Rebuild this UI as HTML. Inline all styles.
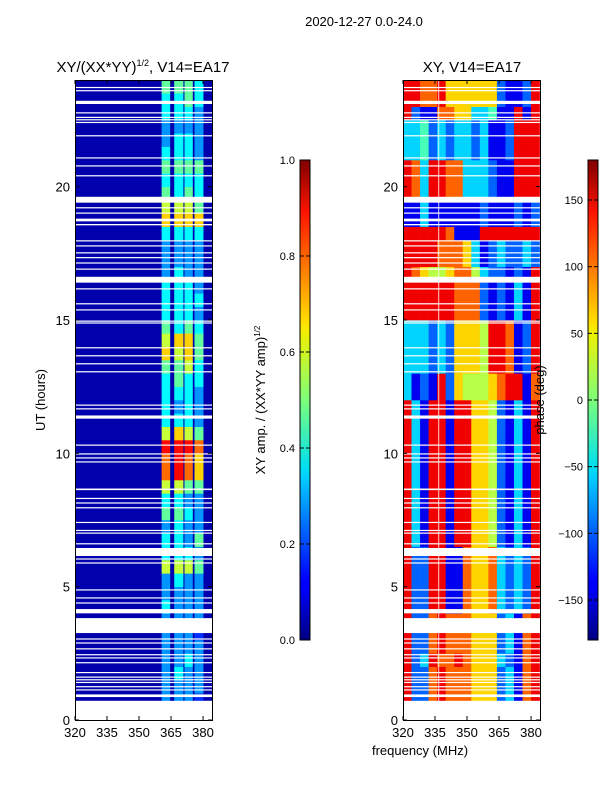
<!DOCTYPE html>
<html><head><meta charset="utf-8"><style>
body{margin:0;background:#fff;font-family:"Liberation Sans",sans-serif}
svg text{font-family:"Liberation Sans",sans-serif;fill:#000}
</style></head><body>
<svg id="fig" width="600" height="800" viewBox="0 0 600 800" xmlns="http://www.w3.org/2000/svg">
<defs>
<linearGradient id="jet" x1="0" y1="1" x2="0" y2="0">
<stop offset="0" stop-color="#000080"/><stop offset="0.11" stop-color="#0000ff"/><stop offset="0.125" stop-color="#0000ff"/><stop offset="0.34" stop-color="#00d0ff"/><stop offset="0.36" stop-color="#00e0f0"/><stop offset="0.5" stop-color="#7dff7a"/><stop offset="0.64" stop-color="#f0f000"/><stop offset="0.66" stop-color="#ffe000"/><stop offset="0.89" stop-color="#ff1400"/><stop offset="1" stop-color="#800000"/>
</linearGradient></defs>
<rect width="600" height="800" fill="#fff"/>
<text x="364" y="26" font-size="13" text-anchor="middle">2020-12-27 0.0-24.0</text>
<text x="143" y="72" font-size="15" text-anchor="middle">XY/(XX*YY)<tspan font-size="9" dy="-6">1/2</tspan><tspan dy="6">, V14=EA17</tspan></text>
<text x="472" y="72" font-size="15" text-anchor="middle">XY, V14=EA17</text>
<text transform="translate(45,400) rotate(-90)" font-size="13" text-anchor="middle">UT (hours)</text>
<text transform="translate(265,400) rotate(-90)" font-size="13" text-anchor="middle">XY amp. / (XX*YY amp)<tspan font-size="8" dy="-5">1/2</tspan></text>
<g id="left"></g>
<g id="right"></g>
<g id="axes"></g>
<text transform="translate(544,400) rotate(-90)" font-size="13" text-anchor="middle">phase (deg)</text>
<text x="420" y="755" font-size="13" text-anchor="middle">frequency (MHz)</text>
<rect x="300" y="160" width="10" height="480" fill="url(#jet)" stroke="#000" stroke-width="1"/>
<rect x="588" y="160" width="10" height="480" fill="url(#jet)" stroke="#000" stroke-width="1"/>
<g id="cbticks"></g>
</svg>
<script>
// ---- data ----
const ampBands = [[360.6,364.6],[366.5,370.8],[371.3,375.2],[376,380.2]];
const ampRows = ["1111","3332","3333","3433","3343","3333","3332","3333","4333","3333","3433","6665","4443","4435","3433","5543","4433","6655","8987","8987","9998","6765","4443","4343","4443","4544","5564","7675","6775","5454","4443","4444","4443","3433","3333","3333","4444","7777","6665","5454","4444","5555","4443","3443","3333","4443","4454","5554"];
const phaseRows = [
"8227877766623178","8227877766623178","8227877766623178","8227877766623178","8238778766632178","8227877766623178","8227877766623178","8227877766623178",
"8228811766732328","8228811766732328","8228811766732328","8228811766732328","8228811766732328","8318818866521318","8318818866521318","8318818866521318",
"8318818866521318","8318818866521318","8318818866521318","8318818866521318","8318818866521318","8318818866521318","8318818866521318","8318818866521318",
"3121826555678817","3121826555678817","3332326665887128","3332326665887128","3332326665887128","3332326665887128","8888887772121318","8888887772121318",
"8888887772121318","8765567753221218","8888777631232232","8888777631232232","8888871118888888","1131111112111212","1131111112111212","8738877333211888",
"8738877333211888","8738877333211888","3342323323112888","3342323323112888","3342323323112888","8211776633411818","8877866666621128","8877866666621128"];
const ampTicks = [0,0.2,0.4,0.6,0.8,1.0];
const phaseTicks = [150,100,50,0,-50,-100,-150];
const xTicks = [320,335,350,365,380];
const yTicks = [0,5,10,15,20];
const gaps = [[0,0.72],[0.86,0.96],[1.12,1.15],[1.24,1.27],[1.4,1.43],[1.5,1.53],[1.6,1.63],[1.76,1.8],[2.14,2.17],[2.32,2.35],[2.44,2.47],[2.66,2.69],[2.88,2.91],[3.03,3.06],[3.26,3.82],[4.0,4.16],[4.38,4.41],[4.57,4.6],[4.87,4.9],[5.88,5.91],[6.03,6.06],[6.15,6.45],[6.6,6.63],[7.0,7.03],[7.1,7.13],[7.4,7.43],[7.95,7.98],[8.13,8.16],[8.3,8.33],[8.62,8.68],[9.67,9.7],[9.82,9.85],[9.97,10.0],[10.3,10.33],[11.3,11.42],[11.66,11.69],[11.8,11.83],[13.05,13.08],[13.35,13.38],[13.65,13.68],[13.95,13.98],[14.88,14.91],[14.95,14.98],[15.37,15.4],[15.6,15.63],[16.16,16.19],[16.4,16.62],[16.9,16.93],[17.13,17.16],[17.33,17.36],[17.5,17.54],[17.77,17.8],[17.96,17.99],[18.55,18.6],[18.7,18.8],[19.0,19.03],[19.2,19.23],[19.4,19.62],[20.4,20.43],[20.77,20.8],[21.07,21.1],[21.9,21.93],[22.4,22.43],[22.5,22.53],[22.59,22.62],[22.76,22.79],[23.1,23.22],[23.59,23.62],[23.71,23.74]];
// ---- scales ----
const NS="http://www.w3.org/2000/svg";
const Y0=720, PPH=26.667, PPM=137/64.2;
const y=h=>Y0-h*PPH;
const xL=f=>75+(f-320)*PPM, xR=f=>403+(f-320)*PPM;
function jet(v){v=Math.max(0,Math.min(1,v));
 const r=Math.max(0,Math.min(1,1.5-Math.abs(4*v-3))),g=Math.max(0,Math.min(1,1.5-Math.abs(4*v-2))),b=Math.max(0,Math.min(1,1.5-Math.abs(4*v-1)));
 return `rgb(${Math.round(r*255)},${Math.round(g*255)},${Math.round(b*255)})`;}
function rect(p,x,yy,w,h,fill){const r=document.createElementNS(NS,'rect');r.setAttribute('x',x);r.setAttribute('y',yy);r.setAttribute('width',w);r.setAttribute('height',h);r.setAttribute('fill',fill);p.appendChild(r);return r;}
const L=document.getElementById('left'),R=document.getElementById('right'),A=document.getElementById('axes'),C=document.getElementById('cbticks');
const bg=rect(L,75,80,137,640,jet(0.045));


ampRows.forEach((row,i)=>{for(let b=0;b<ampBands.length;b++){
 const v=+row[b]/10-0.03;
 const c=rect(L,xL(ampBands[b][0]),y((i+1)/2),xL(ampBands[b][1])-xL(ampBands[b][0]),PPH/2+0.3,jet(v));
 
 }});
phaseRows.forEach((row,i)=>{for(let c=0;c<row.length;c++){
 const deg=-180+(+row[c])*40;
 const f0=320+c*4;
 const el=rect(R,xR(f0),y((i+1)/2),xR(f0+4)-xR(f0)+0.3,PPH/2+0.3,jet((deg+180)/360));
 
 }});
[L,R].forEach((p,k)=>{gaps.forEach(g=>{
 const el=rect(p,k?403:75,y(g[1]),137,Math.max(1.2,(g[1]-g[0])*PPH),'#fff');
 
 });});
const vl=rect(R,xR(336.5),80,1,640,'rgba(255,255,255,0.8)');


function line(p,x1,y1,x2,y2){const l=document.createElementNS(NS,'line');l.setAttribute('x1',x1);l.setAttribute('y1',y1);l.setAttribute('x2',x2);l.setAttribute('y2',y2);l.setAttribute('stroke','#000');l.setAttribute('stroke-width','1');p.appendChild(l);return l;}
function text(p,x,yy,s,anchor){const t=document.createElementNS(NS,'text');t.setAttribute('x',x);t.setAttribute('y',yy);t.setAttribute('font-size','13');t.setAttribute('text-anchor',anchor);t.textContent=s;p.appendChild(t);return t;}
[75,403].forEach((x0,k)=>{
 const fr=rect(A,x0+0.5,80.5,137,640,'none');fr.setAttribute('stroke','#000');
 
 
 const sx=k?xR:xL;
 xTicks.forEach(v=>{line(A,sx(v),720,sx(v),716);line(A,sx(v),80,sx(v),84);
  const t=text(A,sx(v),737,String(v),'middle');
  
  });
 yTicks.forEach(v=>{line(A,x0,y(v),x0+4,y(v));line(A,x0+137,y(v),x0+133,y(v));
  const t=text(A,x0-5,y(v)+5,String(v),'end');
  
  });
});
ampTicks.forEach(v=>{const yy=640-v*480;line(C,300,yy,304,yy);line(C,310,yy,306,yy);
 const t=text(C,295,yy+4,v.toFixed(1),'end');t.setAttribute('font-size','11');
 
 });
phaseTicks.forEach(v=>{const yy=640-(v+180)/360*480;line(C,588,yy,592,yy);line(C,598,yy,594,yy);
 const t=text(C,583,yy+4,v<0?'\u2212'+(-v):String(v),'end');t.setAttribute('font-size','11');
 
 });
</script>
</body></html>
